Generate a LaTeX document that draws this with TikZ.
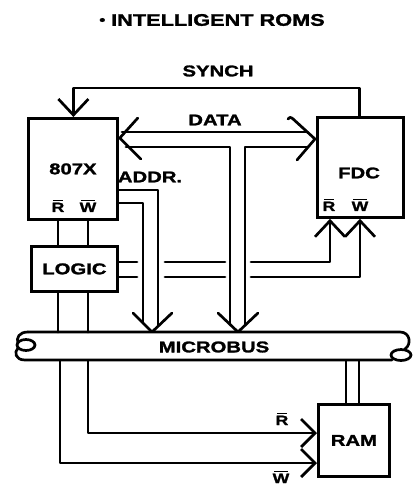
\documentclass[tikz,border=0pt]{standalone}
\usepackage{fontspec}
\newfontfamily\lblfont[FakeStretch=1.3, BoldFeatures={FakeBold=1.6}]{Liberation Sans}
\usetikzlibrary{arrows.meta,calc}
\newcommand\barred[1]{\setbox0\hbox{#1}\hbox to \wd0{\hfil\rlap{\kern-0.4\wd0\rule[\dimexpr\ht0+1.4pt\relax]{0.8\wd0}{1.3pt}}\hfil}\llap{\box0}}
\begin{document}
\begin{tikzpicture}[x=1pt,y=-1pt,
  wire/.style={line width=2.7pt, line cap=round, line join=round},
  box/.style={draw, line width=2.8pt, anchor=north west, inner sep=0pt,
              font=\lblfont\bfseries\fontsize{15.6}{16}\selectfont},
  lbl/.style={font=\lblfont\bfseries\fontsize{15.6}{16}\selectfont, inner sep=0pt},
  sig/.style={font=\lblfont\bfseries\fontsize{13.5}{14}\selectfont, inner sep=0pt},
  barb/.style={-{Straight Barb[length=16pt,width=30pt]}},
  sbarb/.style={-{Straight Barb[length=14pt,width=28pt]}}]
\useasboundingbox (0,0) rectangle (414,485);
\fill[white] (0,0) rectangle (414,485);

% title
\node[font=\lblfont\bfseries\fontsize{16.7}{18}\selectfont, inner sep=0pt] (title) at (212,20) {\raisebox{0.15ex}{\scalebox{0.8}{•}}\hspace{0.35em}INTELLIGENT ROMS};

% boxes
\node[box, minimum width=89pt, minimum height=101pt] (cpu) at (27,117) {807X};
\node[box, minimum width=86pt, minimum height=100pt] (fdc) at (316,116) {};
\node[lbl] (fdctext) at (359,173) {FDC};
\node[box, minimum width=86pt, minimum height=45pt] (logic) at (30,245) {LOGIC};
\node[box, minimum width=71pt, minimum height=72pt] (ram) at (317,403) {RAM};
\node[anchor=north west, minimum width=387pt, minimum height=28pt, inner sep=0pt] (mb) at (17,332) {};

% labels
\node[lbl] (synch) at (218,71) {SYNCH};
\node[lbl] (data) at (215,120) {DATA};
\node[lbl] (addr) at (150,177) {ADDR.};
\node[lbl] (mbtext) at (214,347) {MICROBUS};
\node[sig] (cr) at (58,206) {\barred{R}};
\node[sig] (cw) at (88,206) {\barred{W}};
\node[sig] (fr) at (329,205) {\barred{R}};
\node[sig] (fw) at (360,205) {\barred{W}};
\node[sig] (rr) at (282,419) {\barred{R}};
\node[sig] (rw) at (281,477) {\barred{W}};

% microbus outline
\draw[wire] (28,332) -- (400,332) .. controls (410,332) and (412,344) .. (405,349);
\draw[wire] (401,355) ellipse [x radius=10, y radius=5.5];
\draw[wire] (392,360) -- (25,360) .. controls (15,360) and (14,352) .. (18,348);
\draw[wire] (28,332) .. controls (19,332) and (16,338) .. (18,343);
\draw[wire] (26,345) ellipse [x radius=9, y radius=5.5];

% SYNCH
\draw[wire, barb] ([xshift=-1pt]fdc.north) |- ($(cpu.north)+(0.5,-29)$) -- ([xshift=0.5pt]cpu.north);

% DATA bus
\coordinate (dl) at ($(cpu.north east)+(1,21)$);
\coordinate (dr) at ($(fdc.north west)+(-1,23)$);
\coordinate (da) at (mb.north -| 238,0);
\draw[wire] ($(dl)+(18,-20)$) -- (dl) -- ($(dl)+(21,21)$);
\draw[wire] ($(dr)+(-23,-21)$) .. controls ($(dr)+(-25,-22)$) .. ($(dr)+(-27,-20)$);
\draw[wire] ($(dr)+(-23,-21)$) -- (dr) -- ($(dr)+(-18,21)$);
\draw[wire] (122,132) -- (307,132);
\draw[wire] (126,147) -- (230,147) -- (230,324);
\draw[wire] (308,147) -- (245,147) -- (245,325);
\draw[wire] ($(da)+(-20,-19)$) -- (da) -- ($(da)+(20,-19)$);

% ADDR bus
\coordinate (aa) at (mb.north -| 152,0);
\draw[wire] (cpu.east |- 0,190) -- (158,190) -- (158,326);
\draw[wire] (cpu.east |- 0,203) -- (143,203) -- (143,323);
\draw[wire] ($(aa)+(-19,-19)$) -- (aa) -- ($(aa)+(20,-19)$);

% 807X to LOGIC
\draw[wire] (cpu.south -| 58,0) -- (logic.north -| 58,0);
\draw[wire] (cpu.south -| 88,0) -- (logic.north -| 88,0);

% LOGIC to FDC
\draw[wire] (logic.east |- 0,262) -- (137,262);
\draw[wire] (165,262) -- (225,262);
\draw[wire, barb] (251,262) -- (330,262) -- (fdc.south -| 330,0);
\draw[wire] (logic.east |- 0,277) -- (137,277);
\draw[wire] (165,277) -- (225,277);
\draw[wire, barb] (251,277) -- (360,277) -- (fdc.south -| 360,0);

% LOGIC to microbus
\draw[wire] (logic.south -| 58,0) -- (mb.north -| 58,0);
\draw[wire] (logic.south -| 88,0) -- (mb.north -| 88,0);

% microbus to RAM
\draw[wire, sbarb] (mb.south -| 88,0) -- (88,433) -- (ram.west |- 0,433);
\draw[wire, sbarb] (mb.south -| 60,0) -- (60,463) -- (ram.west |- 0,463);
\draw[wire] (mb.south -| 346,0) -- (ram.north -| 346,0);
\draw[wire] (mb.south -| 359,0) -- (ram.north -| 359,0);
\end{tikzpicture}
\end{document}
